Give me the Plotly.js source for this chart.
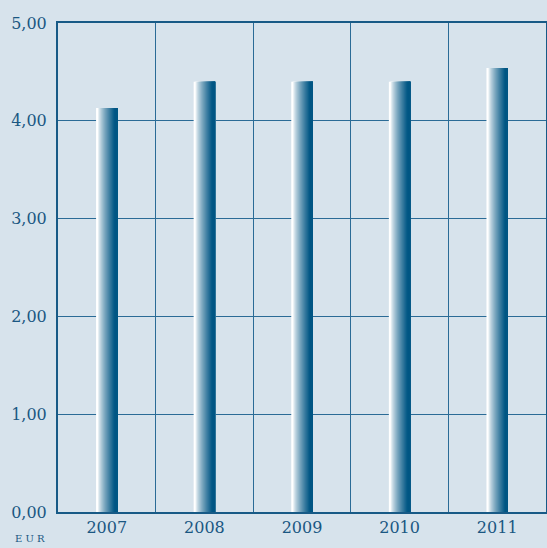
<!DOCTYPE html>
<html><head><meta charset="utf-8">
<script src="https://cdn.plot.ly/plotly-3.0.1.min.js"></script>
<style>html,body{margin:0;padding:0;background:#d7e3ec;}#chart{width:547px;height:548px;}</style>
</head><body><div id="chart"></div>
<script>
const years = ['2007','2008','2009','2010','2011'];
const values = [4.13, 4.40, 4.40, 4.40, 4.54];
const yTicks = [0,1,2,3,4,5];

const idx = years.map((_, i) => i);
const nSlices = 22;
const barW = 0.22;
const step = barW / nSlices;
const c0 = [255,255,255], c1 = [0,86,132];
const traces = [];
for (let k = 0; k < nSlices; k++) {
  let t = k / (nSlices - 1);
  t = Math.min(1, Math.max(0, (t - 0.06) / 0.82));
  const col = c0.map((a, j) => Math.round(a + (c1[j] - a) * Math.pow(t, 0.75)));
  traces.push({
    type: 'bar', x: idx, y: values,
    width: barW - k * step,
    offset: -barW / 2 + k * step,
    marker: {color: `rgb(${col.join(',')})`, line: {width: 0}},
    hoverinfo: 'skip', showlegend: false
  });
}
const fontCol = '#1a5782';
const layout = {
  width: 547, height: 548,
  margin: {l: 58, r: 1, t: 23, b: 36},
  paper_bgcolor: '#d7e3ec', plot_bgcolor: '#d7e3ec',
  barmode: 'overlay',
  font: {family: 'DejaVu Serif', color: fontCol, size: 16},
  xaxis: {
    range: [-0.5, 4.5], tickmode: 'array', tickvals: idx, ticktext: years,
    showgrid: false, zeroline: false, ticks: '', ticklen: 0,
    showline: true, linecolor: '#175a86', linewidth: 2, mirror: true,
    tickfont: {size: 16, color: fontCol},
    minor: {tick0: 0.5, dtick: 1, showgrid: true, gridcolor: '#2a6b96', gridwidth: 1, ticks: ''}
  },
  yaxis: {
    range: [0, 5], tickmode: 'array', tickvals: yTicks, tickformat: '.2f',
    showgrid: true, gridcolor: '#2a6b96', gridwidth: 1, zeroline: false,
    showline: true, linecolor: '#175a86', linewidth: 2, mirror: true,
    ticks: '', ticklabelstandoff: 6, tickfont: {size: 16, color: fontCol}
  },
  separators: ',.',
  annotations: [{
    text: 'E U R', xref: 'paper', yref: 'paper', x: -0.058, y: -0.055,
    xanchor: 'center', yanchor: 'middle', showarrow: false,
    font: {size: 10, color: fontCol, family: 'DejaVu Serif'}
  }]
};
Plotly.newPlot('chart', traces, layout, {displayModeBar: false, staticPlot: true});
</script></body></html>
